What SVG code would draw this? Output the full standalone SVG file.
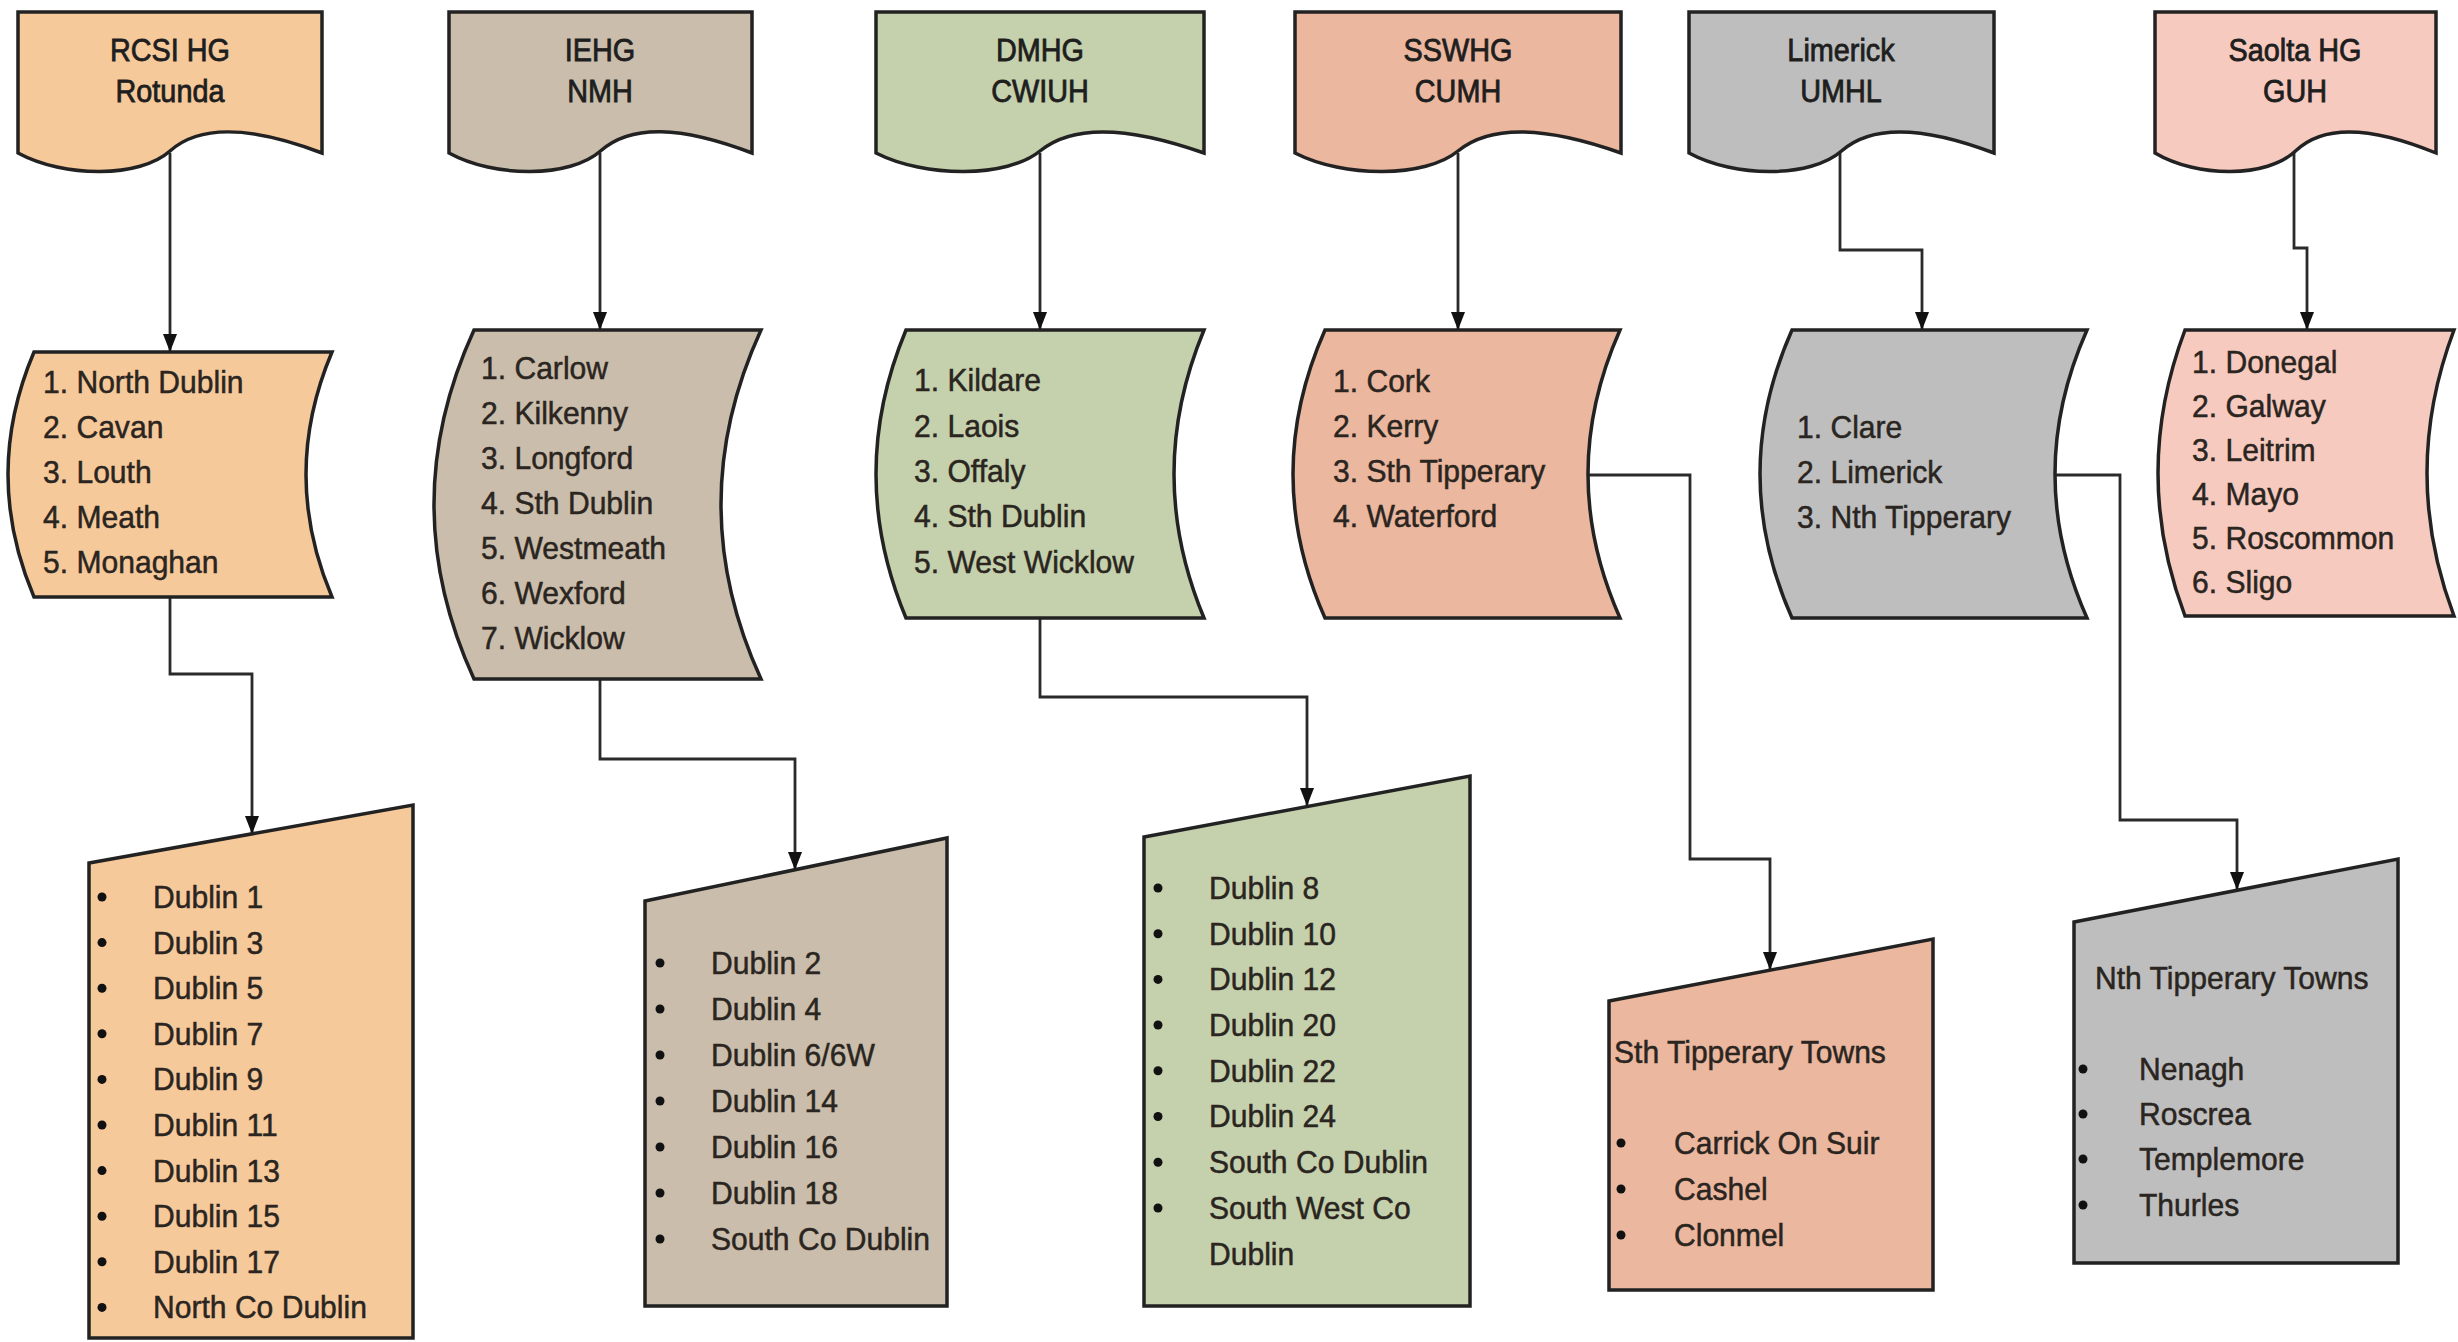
<svg xmlns="http://www.w3.org/2000/svg" width="2458" height="1342" viewBox="0 0 2458 1342">
<defs>
<marker id="arr" markerUnits="userSpaceOnUse" markerWidth="18" markerHeight="14" refX="18" refY="7" orient="auto">
<path d="M0,0 L18,7 L0,14 Z" fill="#111"/>
</marker>
</defs>
<style>
.shape{stroke:#222;stroke-width:3.5;stroke-linejoin:miter}
.t{font-family:"Liberation Sans",Arial,sans-serif;font-size:32px;fill:#2a2520;stroke:#2a2520;stroke-width:0.5}
.title{font-family:"Liberation Sans",Arial,sans-serif;font-size:31px;fill:#1e1e1e;stroke:#1e1e1e;stroke-width:0.8;text-anchor:middle}
.conn{fill:none;stroke:#2a2a2a;stroke-width:2.8}
.dot{fill:#111}
.c1{fill:#F6C99B}.c2{fill:#CABDAB}.c3{fill:#C5D0AC}.c4{fill:#EBB79E}.c5{fill:#BEBEBE}.c6{fill:#F6CABE}
</style>
<rect width="2458" height="1342" fill="#fff"/>

<g id="connectors">
<path class="conn" d="M170,153 V352" marker-end="url(#arr)"/>
<path class="conn" d="M600,153 V330" marker-end="url(#arr)"/>
<path class="conn" d="M1040,153 V330" marker-end="url(#arr)"/>
<path class="conn" d="M1458,153 V330" marker-end="url(#arr)"/>
<path class="conn" d="M1840,153 V250 H1922 V330" marker-end="url(#arr)"/>
<path class="conn" d="M2294,153 V248 H2307 V330" marker-end="url(#arr)"/>
<path class="conn" d="M170,597 V674 H252 V834" marker-end="url(#arr)"/>
<path class="conn" d="M600,679 V759 H795 V870" marker-end="url(#arr)"/>
<path class="conn" d="M1040,618 V697 H1307 V806" marker-end="url(#arr)"/>
<path class="conn" d="M1588,475 H1690 V859 H1770 V970" marker-end="url(#arr)"/>
<path class="conn" d="M2055,475 H2120 V820 H2237 V890" marker-end="url(#arr)"/>
</g>

<g id="rcsi-hg">
<path class="shape c1" d="M18,12 H322 V153 C251,126 200,124 170,151 C140,178 64,178 18,153 Z"/>
<g transform="matrix(0.93,0,0,1,11.9,0)">
<text class="title" x="170" y="61">RCSI HG</text>
<text class="title" x="170" y="102">Rotunda</text>
</g>
</g>
<g id="iehg">
<path class="shape c2" d="M449,12 H752 V153 C681,126 631,124 600.5,151 C570,178 494.5,178 449,153 Z"/>
<g transform="matrix(0.93,0,0,1,42,0)">
<text class="title" x="600" y="61">IEHG</text>
<text class="title" x="600" y="102">NMH</text>
</g>
</g>
<g id="dmhg">
<path class="shape c3" d="M876,12 H1204 V153 C1127.6,126 1072.8,124 1040,151 C1007.2,178 925.2,178 876,153 Z"/>
<g transform="matrix(0.93,0,0,1,72.8,0)">
<text class="title" x="1040" y="61">DMHG</text>
<text class="title" x="1040" y="102">CWIUH</text>
</g>
</g>
<g id="sswhg">
<path class="shape c4" d="M1295,12 H1621 V153 C1545,126 1490.6,124 1458,151 C1425.4,178 1343.9,178 1295,153 Z"/>
<g transform="matrix(0.93,0,0,1,102.06,0)">
<text class="title" x="1458" y="61">SSWHG</text>
<text class="title" x="1458" y="102">CUMH</text>
</g>
</g>
<g id="limerick">
<path class="shape c5" d="M1689,12 H1994 V153 C1922.9,126 1872,124 1841.5,151 C1811,178 1734.8,178 1689,153 Z"/>
<g transform="matrix(0.93,0,0,1,128.87,0)">
<text class="title" x="1841" y="61">Limerick</text>
<text class="title" x="1841" y="102">UMHL</text>
</g>
</g>
<g id="saolta">
<path class="shape c6" d="M2155,12 H2436 V153 C2370.5,126 2323.6,124 2295.5,151 C2267.4,178 2197.2,178 2155,153 Z"/>
<g transform="matrix(0.93,0,0,1,160.65,0)">
<text class="title" x="2295" y="61">Saolta HG</text>
<text class="title" x="2295" y="102">GUH</text>
</g>
</g>

<g id="rcsi-counties">
<path class="shape c1" d="M34,352 H332 Q280,474.5 332,597 H34 Q-18,474.5 34,352 Z"/>
<g transform="matrix(0.94,0,0,1,2.58,0)">
<text class="t" x="43" y="393">1. North Dublin</text>
<text class="t" x="43" y="438">2. Cavan</text>
<text class="t" x="43" y="483">3. Louth</text>
<text class="t" x="43" y="528">4. Meath</text>
<text class="t" x="43" y="573">5. Monaghan</text>
</g>
</g>
<g id="iehg-counties">
<path class="shape c2" d="M474,330 H761 Q681,504.5 761,679 H474 Q394,504.5 474,330 Z"/>
<g transform="matrix(0.94,0,0,1,28.86,0)">
<text class="t" x="481" y="379">1. Carlow</text>
<text class="t" x="481" y="424">2. Kilkenny</text>
<text class="t" x="481" y="469">3. Longford</text>
<text class="t" x="481" y="514">4. Sth Dublin</text>
<text class="t" x="481" y="559">5. Westmeath</text>
<text class="t" x="481" y="604">6. Wexford</text>
<text class="t" x="481" y="649">7. Wicklow</text>
</g>
</g>
<g id="dmhg-counties">
<path class="shape c3" d="M906,330 H1204 Q1144,474 1204,618 H906 Q846,474 906,330 Z"/>
<g transform="matrix(0.94,0,0,1,54.84,0)">
<text class="t" x="914" y="391">1. Kildare</text>
<text class="t" x="914" y="437">2. Laois</text>
<text class="t" x="914" y="482">3. Offaly</text>
<text class="t" x="914" y="527">4. Sth Dublin</text>
<text class="t" x="914" y="573">5. West Wicklow</text>
</g>
</g>
<g id="sswhg-counties">
<path class="shape c4" d="M1325,330 H1620 Q1556,474 1620,618 H1325 Q1261,474 1325,330 Z"/>
<g transform="matrix(0.94,0,0,1,79.98,0)">
<text class="t" x="1333" y="392">1. Cork</text>
<text class="t" x="1333" y="437">2. Kerry</text>
<text class="t" x="1333" y="482">3. Sth Tipperary</text>
<text class="t" x="1333" y="527">4. Waterford</text>
</g>
</g>
<g id="limerick-counties">
<path class="shape c5" d="M1792,330 H2087 Q2023,474 2087,618 H1792 Q1728,474 1792,330 Z"/>
<g transform="matrix(0.94,0,0,1,107.82,0)">
<text class="t" x="1797" y="438">1. Clare</text>
<text class="t" x="1797" y="483">2. Limerick</text>
<text class="t" x="1797" y="528">3. Nth Tipperary</text>
</g>
</g>
<g id="saolta-counties">
<path class="shape c6" d="M2185,330 H2454 Q2400,473 2454,616 H2185 Q2131,473 2185,330 Z"/>
<g transform="matrix(0.94,0,0,1,131.52,0)">
<text class="t" x="2192" y="373">1. Donegal</text>
<text class="t" x="2192" y="417">2. Galway</text>
<text class="t" x="2192" y="461">3. Leitrim</text>
<text class="t" x="2192" y="505">4. Mayo</text>
<text class="t" x="2192" y="549">5. Roscommon</text>
<text class="t" x="2192" y="593">6. Sligo</text>
</g>
</g>

<g id="rcsi-districts">
<polygon class="shape c1" points="89,863 413,805 413,1338 89,1338"/>
<g class="dot">
<circle cx="102" cy="897" r="4.5"/><circle cx="102" cy="942.6" r="4.5"/><circle cx="102" cy="988.2" r="4.5"/><circle cx="102" cy="1033.8" r="4.5"/><circle cx="102" cy="1079.4" r="4.5"/><circle cx="102" cy="1125" r="4.5"/><circle cx="102" cy="1170.6" r="4.5"/><circle cx="102" cy="1216.2" r="4.5"/><circle cx="102" cy="1261.8" r="4.5"/><circle cx="102" cy="1307.4" r="4.5"/>
</g>
<g transform="matrix(0.94,0,0,1,9.18,0)">
<text class="t" x="153" y="908">Dublin 1</text>
<text class="t" x="153" y="953.6">Dublin 3</text>
<text class="t" x="153" y="999.2">Dublin 5</text>
<text class="t" x="153" y="1044.8">Dublin 7</text>
<text class="t" x="153" y="1090.4">Dublin 9</text>
<text class="t" x="153" y="1136">Dublin 11</text>
<text class="t" x="153" y="1181.6">Dublin 13</text>
<text class="t" x="153" y="1227.2">Dublin 15</text>
<text class="t" x="153" y="1272.8">Dublin 17</text>
<text class="t" x="153" y="1318.4">North Co Dublin</text>
</g>
</g>
<g id="iehg-districts">
<polygon class="shape c2" points="645,901 947,838 947,1306 645,1306"/>
<g class="dot">
<circle cx="660" cy="963" r="4.5"/><circle cx="660" cy="1009" r="4.5"/><circle cx="660" cy="1055" r="4.5"/><circle cx="660" cy="1101" r="4.5"/><circle cx="660" cy="1147" r="4.5"/><circle cx="660" cy="1193" r="4.5"/><circle cx="660" cy="1239" r="4.5"/>
</g>
<g transform="matrix(0.94,0,0,1,42.66,0)">
<text class="t" x="711" y="974">Dublin 2</text>
<text class="t" x="711" y="1020">Dublin 4</text>
<text class="t" x="711" y="1066">Dublin 6/6W</text>
<text class="t" x="711" y="1112">Dublin 14</text>
<text class="t" x="711" y="1158">Dublin 16</text>
<text class="t" x="711" y="1204">Dublin 18</text>
<text class="t" x="711" y="1250">South Co Dublin</text>
</g>
</g>
<g id="dmhg-districts">
<polygon class="shape c3" points="1144,837 1470,776 1470,1306 1144,1306"/>
<g class="dot">
<circle cx="1158" cy="888" r="4.5"/><circle cx="1158" cy="933.7" r="4.5"/><circle cx="1158" cy="979.4" r="4.5"/><circle cx="1158" cy="1025" r="4.5"/><circle cx="1158" cy="1070.8" r="4.5"/><circle cx="1158" cy="1116.5" r="4.5"/><circle cx="1158" cy="1162.2" r="4.5"/><circle cx="1158" cy="1208" r="4.5"/>
</g>
<g transform="matrix(0.94,0,0,1,72.54,0)">
<text class="t" x="1209" y="899">Dublin 8</text>
<text class="t" x="1209" y="944.7">Dublin 10</text>
<text class="t" x="1209" y="990.4">Dublin 12</text>
<text class="t" x="1209" y="1036">Dublin 20</text>
<text class="t" x="1209" y="1081.8">Dublin 22</text>
<text class="t" x="1209" y="1127.5">Dublin 24</text>
<text class="t" x="1209" y="1173.2">South Co Dublin</text>
<text class="t" x="1209" y="1219">South West Co</text>
<text class="t" x="1209" y="1264.6">Dublin</text>
</g>
</g>
<g id="sth-tipperary-towns">
<polygon class="shape c4" points="1609,1001 1933,939 1933,1290 1609,1290"/>
<g transform="matrix(0.94,0,0,1,96.84,0)">
<text class="t" x="1614" y="1063">Sth Tipperary Towns</text>
</g>
<g class="dot">
<circle cx="1621" cy="1143" r="4.5"/><circle cx="1621" cy="1189" r="4.5"/><circle cx="1621" cy="1235" r="4.5"/>
</g>
<g transform="matrix(0.94,0,0,1,100.44,0)">
<text class="t" x="1674" y="1154">Carrick On Suir</text>
<text class="t" x="1674" y="1200">Cashel</text>
<text class="t" x="1674" y="1246">Clonmel</text>
</g>
</g>
<g id="nth-tipperary-towns">
<polygon class="shape c5" points="2074,922 2398,859 2398,1263 2074,1263"/>
<g transform="matrix(0.94,0,0,1,125.7,0)">
<text class="t" x="2095" y="989">Nth Tipperary Towns</text>
</g>
<g class="dot">
<circle cx="2083" cy="1069" r="4.5"/><circle cx="2083" cy="1114" r="4.5"/><circle cx="2083" cy="1159" r="4.5"/><circle cx="2083" cy="1205" r="4.5"/>
</g>
<g transform="matrix(0.94,0,0,1,128.34,0)">
<text class="t" x="2139" y="1080">Nenagh</text>
<text class="t" x="2139" y="1125">Roscrea</text>
<text class="t" x="2139" y="1170">Templemore</text>
<text class="t" x="2139" y="1216">Thurles</text>
</g>
</g>
</svg>
